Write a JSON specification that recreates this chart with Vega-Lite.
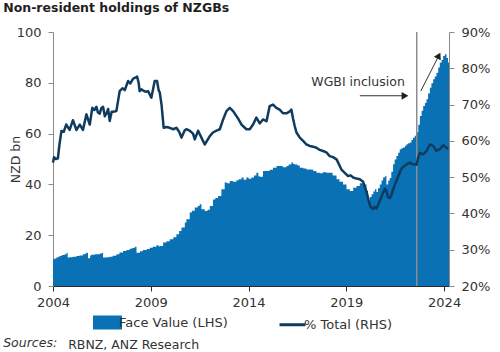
{
  "$schema": "https://vega.github.io/schema/vega-lite/v6.json",
  "background": "white",
  "padding": {"left": 3, "top": 1, "right": 4, "bottom": 2},
  "config": {
    "view": {"stroke": null},
    "font": "DejaVu Sans",
    "axis": {
      "labelFont": "DejaVu Sans",
      "labelFontSize": 13,
      "labelColor": "#333333",
      "titleFont": "DejaVu Sans",
      "titleFontSize": 12.5,
      "titleFontWeight": "normal",
      "titleColor": "#333333",
      "grid": false,
      "tickColor": "#8a8a8a",
      "domainColor": "#8a8a8a",
      "tickSize": 5
    },
    "legend": {"layout": {"bottom": {"anchor": "middle", "direction": "horizontal"}}},
    "title": {"font": "DejaVu Sans", "color": "#1f1f1f"}
  },
  "title": {
    "text": "Non-resident holdings of NZGBs",
    "anchor": "start",
    "frame": "bounds",
    "fontSize": 12.5,
    "fontWeight": "bold",
    "offset": 12
  },
  "datasets": {
    "holdings": [
      {"year": 2004.00, "nzd": 10.5}, {"year": 2004.08, "nzd": 10.8}, {"year": 2004.17, "nzd": 11.2},
      {"year": 2004.25, "nzd": 11.5}, {"year": 2004.34, "nzd": 11.8}, {"year": 2004.45, "nzd": 12.2},
      {"year": 2004.60, "nzd": 12.5}, {"year": 2004.69, "nzd": 13.1}, {"year": 2004.75, "nzd": 11.2},
      {"year": 2004.85, "nzd": 11.3}, {"year": 2005.00, "nzd": 11.5}, {"year": 2005.20, "nzd": 11.8},
      {"year": 2005.35, "nzd": 12.0}, {"year": 2005.53, "nzd": 12.5}, {"year": 2005.65, "nzd": 12.8},
      {"year": 2005.71, "nzd": 13.1}, {"year": 2005.79, "nzd": 10.9}, {"year": 2005.90, "nzd": 12.0},
      {"year": 2005.96, "nzd": 12.3}, {"year": 2006.15, "nzd": 12.5}, {"year": 2006.39, "nzd": 12.8},
      {"year": 2006.50, "nzd": 13.0}, {"year": 2006.56, "nzd": 11.2}, {"year": 2006.75, "nzd": 11.3},
      {"year": 2006.90, "nzd": 11.5}, {"year": 2007.05, "nzd": 11.9}, {"year": 2007.24, "nzd": 12.5},
      {"year": 2007.40, "nzd": 13.2}, {"year": 2007.58, "nzd": 13.8}, {"year": 2007.75, "nzd": 14.2},
      {"year": 2007.92, "nzd": 14.7}, {"year": 2008.05, "nzd": 15.0}, {"year": 2008.18, "nzd": 15.5},
      {"year": 2008.27, "nzd": 13.1}, {"year": 2008.45, "nzd": 13.7}, {"year": 2008.60, "nzd": 14.2},
      {"year": 2008.80, "nzd": 14.6}, {"year": 2008.95, "nzd": 15.1}, {"year": 2009.10, "nzd": 15.5},
      {"year": 2009.29, "nzd": 16.0}, {"year": 2009.40, "nzd": 15.6}, {"year": 2009.46, "nzd": 15.7},
      {"year": 2009.63, "nzd": 17.1}, {"year": 2009.80, "nzd": 17.6}, {"year": 2009.97, "nzd": 18.4},
      {"year": 2010.15, "nzd": 19.2}, {"year": 2010.31, "nzd": 20.4}, {"year": 2010.45, "nzd": 21.7},
      {"year": 2010.57, "nzd": 23.0}, {"year": 2010.74, "nzd": 25.0}, {"year": 2010.82, "nzd": 26.3},
      {"year": 2010.99, "nzd": 28.9}, {"year": 2011.10, "nzd": 29.6}, {"year": 2011.25, "nzd": 30.9},
      {"year": 2011.40, "nzd": 31.5}, {"year": 2011.50, "nzd": 32.2}, {"year": 2011.59, "nzd": 30.2},
      {"year": 2011.76, "nzd": 29.5}, {"year": 2011.90, "nzd": 30.0}, {"year": 2012.02, "nzd": 31.5},
      {"year": 2012.18, "nzd": 34.1}, {"year": 2012.30, "nzd": 34.6}, {"year": 2012.44, "nzd": 35.4},
      {"year": 2012.61, "nzd": 38.1}, {"year": 2012.78, "nzd": 40.7}, {"year": 2012.90, "nzd": 40.5},
      {"year": 2013.04, "nzd": 41.3}, {"year": 2013.20, "nzd": 41.0}, {"year": 2013.38, "nzd": 41.6},
      {"year": 2013.50, "nzd": 42.0}, {"year": 2013.64, "nzd": 42.7}, {"year": 2013.75, "nzd": 41.8},
      {"year": 2013.89, "nzd": 42.7}, {"year": 2014.00, "nzd": 42.2}, {"year": 2014.15, "nzd": 42.7},
      {"year": 2014.28, "nzd": 43.5}, {"year": 2014.40, "nzd": 44.6}, {"year": 2014.50, "nzd": 43.2},
      {"year": 2014.57, "nzd": 43.0}, {"year": 2014.74, "nzd": 45.3}, {"year": 2014.92, "nzd": 45.3},
      {"year": 2015.08, "nzd": 45.8}, {"year": 2015.25, "nzd": 46.6}, {"year": 2015.43, "nzd": 47.2},
      {"year": 2015.59, "nzd": 47.2}, {"year": 2015.75, "nzd": 46.8}, {"year": 2015.94, "nzd": 47.2},
      {"year": 2016.05, "nzd": 47.8}, {"year": 2016.19, "nzd": 48.6}, {"year": 2016.28, "nzd": 48.0},
      {"year": 2016.36, "nzd": 47.8}, {"year": 2016.50, "nzd": 47.4}, {"year": 2016.62, "nzd": 46.6},
      {"year": 2016.80, "nzd": 46.3}, {"year": 2016.96, "nzd": 45.9}, {"year": 2017.13, "nzd": 45.9},
      {"year": 2017.30, "nzd": 45.3}, {"year": 2017.47, "nzd": 44.6}, {"year": 2017.65, "nzd": 44.4},
      {"year": 2017.80, "nzd": 44.8}, {"year": 2017.98, "nzd": 44.6}, {"year": 2018.15, "nzd": 44.6},
      {"year": 2018.30, "nzd": 43.5}, {"year": 2018.50, "nzd": 42.0}, {"year": 2018.65, "nzd": 41.0},
      {"year": 2018.83, "nzd": 40.0}, {"year": 2019.01, "nzd": 38.1}, {"year": 2019.18, "nzd": 37.4},
      {"year": 2019.35, "nzd": 38.7}, {"year": 2019.52, "nzd": 39.4}, {"year": 2019.69, "nzd": 40.5},
      {"year": 2019.86, "nzd": 40.0}, {"year": 2020.03, "nzd": 37.5}, {"year": 2020.11, "nzd": 33.5},
      {"year": 2020.20, "nzd": 35.0}, {"year": 2020.29, "nzd": 36.1}, {"year": 2020.38, "nzd": 37.2},
      {"year": 2020.46, "nzd": 38.1}, {"year": 2020.54, "nzd": 37.0}, {"year": 2020.62, "nzd": 38.5},
      {"year": 2020.71, "nzd": 40.0}, {"year": 2020.80, "nzd": 41.5}, {"year": 2020.88, "nzd": 42.7},
      {"year": 2020.97, "nzd": 43.2}, {"year": 2021.05, "nzd": 40.0}, {"year": 2021.14, "nzd": 41.5},
      {"year": 2021.22, "nzd": 42.5}, {"year": 2021.30, "nzd": 45.0}, {"year": 2021.39, "nzd": 47.9},
      {"year": 2021.47, "nzd": 49.8}, {"year": 2021.56, "nzd": 51.2}, {"year": 2021.65, "nzd": 52.5},
      {"year": 2021.73, "nzd": 53.8}, {"year": 2021.82, "nzd": 54.2}, {"year": 2021.90, "nzd": 54.5},
      {"year": 2022.00, "nzd": 55.2}, {"year": 2022.08, "nzd": 55.8}, {"year": 2022.16, "nzd": 56.2},
      {"year": 2022.25, "nzd": 56.5}, {"year": 2022.33, "nzd": 57.5}, {"year": 2022.41, "nzd": 58.4},
      {"year": 2022.50, "nzd": 59.2}, {"year": 2022.59, "nzd": 60.5}, {"year": 2022.68, "nzd": 63.5},
      {"year": 2022.76, "nzd": 66.9}, {"year": 2022.85, "nzd": 69.0}, {"year": 2022.93, "nzd": 70.9},
      {"year": 2023.02, "nzd": 72.0}, {"year": 2023.10, "nzd": 73.5}, {"year": 2023.18, "nzd": 75.8},
      {"year": 2023.27, "nzd": 78.1}, {"year": 2023.35, "nzd": 79.8}, {"year": 2023.44, "nzd": 81.4},
      {"year": 2023.52, "nzd": 82.5}, {"year": 2023.61, "nzd": 84.0}, {"year": 2023.70, "nzd": 86.0},
      {"year": 2023.78, "nzd": 87.9}, {"year": 2023.87, "nzd": 89.0}, {"year": 2023.95, "nzd": 90.6},
      {"year": 2024.04, "nzd": 91.2}, {"year": 2024.12, "nzd": 89.8}, {"year": 2024.20, "nzd": 88.0},
      {"year": 2024.25, "nzd": 88.0}
    ],
    "share": [
      {"year": 2004.00, "pct": 54.0}, {"year": 2004.05, "pct": 55.5}, {"year": 2004.15, "pct": 55.0},
      {"year": 2004.25, "pct": 55.2}, {"year": 2004.33, "pct": 59.0}, {"year": 2004.43, "pct": 62.7},
      {"year": 2004.55, "pct": 62.5}, {"year": 2004.68, "pct": 64.5}, {"year": 2004.85, "pct": 63.0},
      {"year": 2005.02, "pct": 65.7}, {"year": 2005.20, "pct": 63.0}, {"year": 2005.37, "pct": 64.5},
      {"year": 2005.53, "pct": 63.0}, {"year": 2005.71, "pct": 67.3}, {"year": 2005.88, "pct": 64.5},
      {"year": 2006.01, "pct": 69.1}, {"year": 2006.12, "pct": 68.5}, {"year": 2006.22, "pct": 69.4},
      {"year": 2006.30, "pct": 67.8}, {"year": 2006.39, "pct": 67.5}, {"year": 2006.47, "pct": 69.0},
      {"year": 2006.56, "pct": 69.4}, {"year": 2006.65, "pct": 66.8}, {"year": 2006.73, "pct": 67.5},
      {"year": 2006.82, "pct": 68.8}, {"year": 2006.90, "pct": 65.5}, {"year": 2007.00, "pct": 68.0},
      {"year": 2007.07, "pct": 68.0}, {"year": 2007.24, "pct": 68.2}, {"year": 2007.41, "pct": 73.7},
      {"year": 2007.55, "pct": 74.5}, {"year": 2007.67, "pct": 74.0}, {"year": 2007.84, "pct": 76.5},
      {"year": 2007.95, "pct": 75.8}, {"year": 2008.09, "pct": 77.1}, {"year": 2008.20, "pct": 77.4},
      {"year": 2008.30, "pct": 77.7}, {"year": 2008.38, "pct": 76.0}, {"year": 2008.43, "pct": 73.7},
      {"year": 2008.52, "pct": 74.2}, {"year": 2008.60, "pct": 73.9}, {"year": 2008.75, "pct": 73.5},
      {"year": 2008.86, "pct": 73.7}, {"year": 2009.03, "pct": 71.9}, {"year": 2009.20, "pct": 76.5},
      {"year": 2009.32, "pct": 76.5}, {"year": 2009.40, "pct": 74.0}, {"year": 2009.46, "pct": 73.3},
      {"year": 2009.55, "pct": 70.0}, {"year": 2009.66, "pct": 63.6}, {"year": 2009.80, "pct": 63.8},
      {"year": 2009.97, "pct": 63.6}, {"year": 2010.15, "pct": 63.2}, {"year": 2010.31, "pct": 63.6},
      {"year": 2010.45, "pct": 62.5}, {"year": 2010.57, "pct": 60.9}, {"year": 2010.74, "pct": 62.9},
      {"year": 2010.82, "pct": 63.2}, {"year": 2010.99, "pct": 62.8}, {"year": 2011.16, "pct": 62.0},
      {"year": 2011.25, "pct": 60.4}, {"year": 2011.42, "pct": 62.8}, {"year": 2011.59, "pct": 60.9},
      {"year": 2011.76, "pct": 59.0}, {"year": 2012.02, "pct": 61.3}, {"year": 2012.18, "pct": 62.3},
      {"year": 2012.36, "pct": 62.8}, {"year": 2012.53, "pct": 63.2}, {"year": 2012.70, "pct": 65.9},
      {"year": 2012.87, "pct": 68.2}, {"year": 2013.04, "pct": 69.1}, {"year": 2013.21, "pct": 68.2},
      {"year": 2013.46, "pct": 66.2}, {"year": 2013.64, "pct": 64.5}, {"year": 2013.89, "pct": 63.2},
      {"year": 2014.06, "pct": 63.2}, {"year": 2014.23, "pct": 64.5}, {"year": 2014.40, "pct": 66.4},
      {"year": 2014.57, "pct": 64.8}, {"year": 2014.74, "pct": 65.9}, {"year": 2014.92, "pct": 65.4},
      {"year": 2015.08, "pct": 69.6}, {"year": 2015.25, "pct": 70.0}, {"year": 2015.42, "pct": 69.1},
      {"year": 2015.59, "pct": 68.6}, {"year": 2015.76, "pct": 67.6}, {"year": 2015.94, "pct": 67.6},
      {"year": 2016.11, "pct": 68.1}, {"year": 2016.19, "pct": 68.6}, {"year": 2016.28, "pct": 66.0},
      {"year": 2016.36, "pct": 64.1}, {"year": 2016.45, "pct": 62.3}, {"year": 2016.62, "pct": 60.9},
      {"year": 2016.79, "pct": 60.0}, {"year": 2016.96, "pct": 59.0}, {"year": 2017.13, "pct": 58.6},
      {"year": 2017.30, "pct": 58.4}, {"year": 2017.47, "pct": 58.1}, {"year": 2017.64, "pct": 57.5},
      {"year": 2017.81, "pct": 57.2}, {"year": 2017.98, "pct": 56.8}, {"year": 2018.15, "pct": 55.8},
      {"year": 2018.32, "pct": 55.5}, {"year": 2018.50, "pct": 54.9}, {"year": 2018.60, "pct": 53.8},
      {"year": 2018.75, "pct": 52.1}, {"year": 2018.92, "pct": 51.2}, {"year": 2019.09, "pct": 50.3},
      {"year": 2019.22, "pct": 50.5}, {"year": 2019.35, "pct": 49.9}, {"year": 2019.52, "pct": 49.6},
      {"year": 2019.69, "pct": 49.4}, {"year": 2019.86, "pct": 48.7}, {"year": 2020.03, "pct": 46.0},
      {"year": 2020.12, "pct": 44.0}, {"year": 2020.20, "pct": 42.3}, {"year": 2020.28, "pct": 41.6},
      {"year": 2020.37, "pct": 41.2}, {"year": 2020.45, "pct": 41.8}, {"year": 2020.54, "pct": 41.4},
      {"year": 2020.62, "pct": 42.2}, {"year": 2020.71, "pct": 43.6}, {"year": 2020.80, "pct": 44.6},
      {"year": 2020.88, "pct": 45.7}, {"year": 2020.97, "pct": 46.8}, {"year": 2021.05, "pct": 46.2},
      {"year": 2021.14, "pct": 44.4}, {"year": 2021.22, "pct": 44.2}, {"year": 2021.30, "pct": 45.0},
      {"year": 2021.39, "pct": 46.6}, {"year": 2021.50, "pct": 48.2}, {"year": 2021.65, "pct": 50.2},
      {"year": 2021.82, "pct": 52.4}, {"year": 2021.95, "pct": 53.0}, {"year": 2022.08, "pct": 53.5},
      {"year": 2022.25, "pct": 54.0}, {"year": 2022.38, "pct": 53.6}, {"year": 2022.50, "pct": 53.5},
      {"year": 2022.59, "pct": 53.4}, {"year": 2022.68, "pct": 55.5}, {"year": 2022.76, "pct": 56.7},
      {"year": 2022.93, "pct": 56.3}, {"year": 2023.10, "pct": 57.2}, {"year": 2023.27, "pct": 59.0},
      {"year": 2023.35, "pct": 58.8}, {"year": 2023.44, "pct": 58.6}, {"year": 2023.61, "pct": 57.2},
      {"year": 2023.78, "pct": 57.7}, {"year": 2023.95, "pct": 58.8}, {"year": 2024.12, "pct": 58.1},
      {"year": 2024.20, "pct": 57.7}
    ],
    "inclusion": [{"year": 2022.6}],
    "notes": [{"year": 2019.6, "nzd": 80.3, "label": "WGBI  inclusion"}],
    "arrows": [
      {"name": "into index", "year": 2019.69, "nzd": 74.9, "year2": 2022.0, "nzd2": 74.9},
      {"name": "since inclusion", "year": 2022.81, "nzd": 76.8, "year2": 2023.73, "nzd2": 90.7}
    ]
  },
  "resolve": {"scale": {"color": "independent"}, "legend": {"color": "independent"}},
  "vconcat": [
    {
      "title": {
        "text": "Sources:",
        "orient": "bottom",
        "anchor": "start",
        "frame": "bounds",
        "fontSize": 12.5,
        "fontWeight": "normal",
        "fontStyle": "italic",
        "color": "#333333",
        "dx": -6,
        "offset": -15
      },
      "resolve": {"scale": {"color": "independent"}, "legend": {"color": "independent"}},
      "vconcat": [
        {
          "title": {
            "text": "RBNZ, ANZ Research",
            "orient": "bottom",
            "anchor": "start",
            "frame": "bounds",
            "fontSize": 12.5,
            "fontWeight": "normal",
            "color": "#333333",
            "dx": 59,
            "offset": 5
          },
          "width": 396,
          "height": 254,
          "resolve": {"scale": {"y": "independent"}},
          "layer": [
            {
              "layer": [
                {
                  "data": {"name": "holdings"},
                  "mark": {"type": "area", "interpolate": "step-after"},
                  "encoding": {
                    "x": {
                      "field": "year",
                      "type": "quantitative",
                      "title": null,
                      "scale": {"domain": [2004, 2024.25], "nice": false, "zero": false},
                      "axis": {
                        "values": [2004, 2009, 2014, 2019, 2024],
                        "format": "d",
                        "domainColor": "#2b2b2b",
                        "tickColor": "#2b2b2b",
                        "labelPadding": 5,
                        "labelFlush": false
                      }
                    },
                    "y": {
                      "field": "nzd",
                      "type": "quantitative",
                      "title": "NZD bn",
                      "scale": {"domain": [0, 100], "nice": false},
                      "axis": {
                        "values": [0, 10, 20, 30, 40, 50, 60, 70, 80, 90, 100],
                        "labelPadding": 7,
                        "titlePadding": -6
                      }
                    },
                    "color": {
                      "datum": "Face Value (LHS)",
                      "type": "nominal",
                      "scale": {"domain": ["Face Value (LHS)", "% Total (RHS)"], "range": ["#0A72B4", "#0F3B5F"]},
                      "legend": {
                        "title": " ",
                        "titleOrient": "right",
                        "titlePadding": 18,
                        "titleFontSize": 12,
                        "orient": "bottom",
                        "direction": "horizontal",
                        "offset": -1,
                        "symbolSize": 676,
                        "symbolStrokeWidth": 0,
                        "labelFont": "DejaVu Sans",
                        "labelFontSize": 13,
                        "labelColor": "#333333",
                        "labelOffset": -3,
                        "columnPadding": 45,
                        "encode": {
                          "symbols": {
                            "update": {
                              "shape": {"signal": "datum.value === 'Face Value (LHS)' ? 'M-1,-0.42H1V0.42H-1Z' : 'stroke'"},
                              "fill": {"signal": "datum.value === 'Face Value (LHS)' ? '#0A72B4' : 'transparent'"},
                              "stroke": {"signal": "datum.value === 'Face Value (LHS)' ? 'transparent' : '#0F3B5F'"},
                              "strokeWidth": {"value": 3},
                              "opacity": {"value": 1}
                            }
                          }
                        }
                      }
                    }
                  }
                },
                {
                  "data": {"name": "inclusion"},
                  "mark": {"type": "rule", "color": "#8c8c8c", "strokeWidth": 1.5},
                  "encoding": {
                    "x": {"field": "year", "type": "quantitative", "title": null}
                  }
                },
                {
                  "data": {"name": "notes"},
                  "mark": {"type": "text", "font": "DejaVu Sans", "fontSize": 12.5, "color": "#333333", "align": "center", "baseline": "middle"},
                  "encoding": {
                    "x": {"field": "year", "type": "quantitative", "title": null},
                    "y": {"field": "nzd", "type": "quantitative", "title": "NZD bn"},
                    "text": {"field": "label"}
                  }
                },
                {
                  "data": {"name": "arrows"},
                  "mark": {"type": "rule", "color": "#333333", "strokeWidth": 1},
                  "encoding": {
                    "x": {"field": "year", "type": "quantitative", "title": null},
                    "y": {"field": "nzd", "type": "quantitative", "title": "NZD bn"},
                    "x2": {"field": "year2"},
                    "y2": {"field": "nzd2"}
                  }
                },
                {
                  "data": {"name": "arrows"},
                  "transform": [{"filter": "datum.name === 'into index'"}],
                  "mark": {"type": "point", "shape": "triangle-right", "filled": true, "color": "#1f1f1f", "size": 60, "opacity": 1},
                  "encoding": {
                    "x": {"field": "year2", "type": "quantitative", "title": null},
                    "y": {"field": "nzd2", "type": "quantitative", "title": "NZD bn"}
                  }
                },
                {
                  "data": {"name": "arrows"},
                  "transform": [{"filter": "datum.name === 'since inclusion'"}],
                  "mark": {"type": "point", "shape": "triangle-up", "angle": 27, "filled": true, "color": "#1f1f1f", "size": 60, "opacity": 1},
                  "encoding": {
                    "x": {"field": "year2", "type": "quantitative", "title": null},
                    "y": {"field": "nzd2", "type": "quantitative", "title": "NZD bn"}
                  }
                }
              ]
            },
            {
              "data": {"name": "share"},
              "mark": {"type": "line", "strokeWidth": 2.5, "strokeJoin": "round"},
              "encoding": {
                "x": {"field": "year", "type": "quantitative", "title": null},
                "y": {
                  "field": "pct",
                  "type": "quantitative",
                  "title": null,
                  "scale": {"domain": [20, 90], "nice": false, "zero": false},
                  "axis": {
                    "orient": "right",
                    "values": [20, 30, 40, 50, 60, 70, 80, 90],
                    "labelExpr": "datum.value + '%'",
                    "labelPadding": 7
                  }
                },
                "color": {"datum": "% Total (RHS)", "type": "nominal"}
              }
            }
          ]
        }
      ]
    }
  ]
}
